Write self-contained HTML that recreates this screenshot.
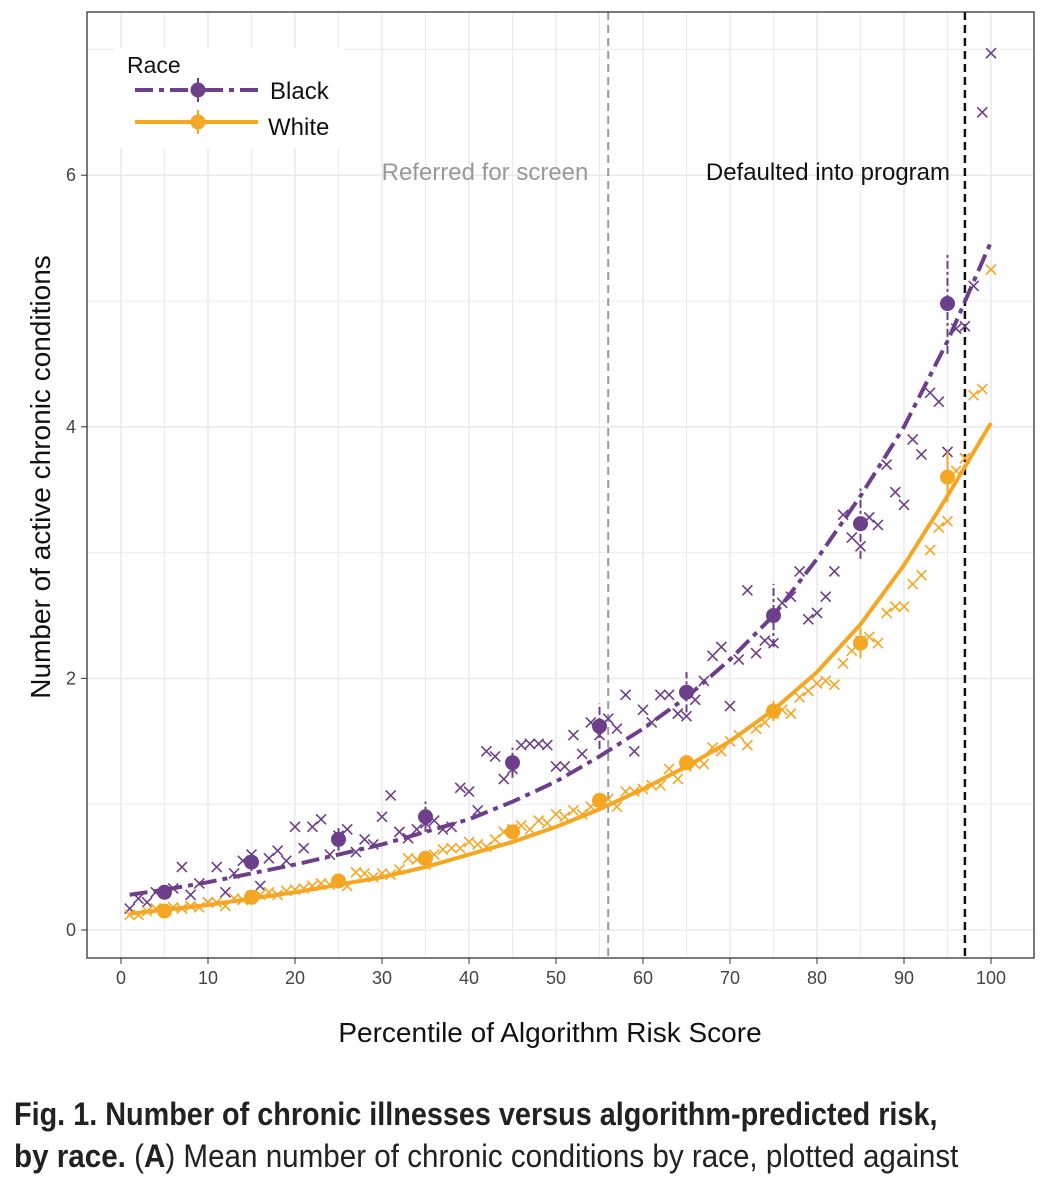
<!DOCTYPE html>
<html><head><meta charset="utf-8"><style>
body{margin:0;background:#fff;width:1056px;height:1178px;overflow:hidden;font-family:"Liberation Sans",sans-serif}
svg{position:absolute;left:0;top:0}
.cap{position:absolute;left:14px;font-family:"Liberation Sans",sans-serif;font-size:32px;color:#222;white-space:nowrap;transform-origin:0 0}
</style></head><body>
<svg width="1056" height="1178" id="chart">
<g id="grid"></g><g id="marks"></g><g id="axes"></g>
<rect x="87" y="12" width="947" height="946" fill="none" stroke="#333" stroke-width="1.3"/>
<text x="485" y="180" font-size="24" fill="#999" text-anchor="middle">Referred for screen</text>
<text x="950" y="180" font-size="24" fill="#111" text-anchor="end">Defaulted into program</text>
<g>
<rect x="115" y="48" width="230" height="100" fill="#fff"/>
<text x="127" y="73" font-size="23" fill="#111">Race</text>
<line x1="135" y1="90" x2="258" y2="90" stroke="#6d3f8a" stroke-width="4" stroke-dasharray="18 6 5 6"/>
<line x1="198" y1="78" x2="198" y2="102" stroke="#6d3f8a" stroke-width="2"/>
<circle cx="198" cy="90" r="7.5" fill="#6d3f8a"/>
<text x="270" y="99" font-size="24" fill="#111">Black</text>
<line x1="135" y1="122" x2="258" y2="122" stroke="#f5a623" stroke-width="4"/>
<line x1="198" y1="110" x2="198" y2="134" stroke="#f5a623" stroke-width="2"/>
<circle cx="198" cy="122" r="7.5" fill="#f5a623"/>
<text x="268" y="135" font-size="24" fill="#111">White</text>
</g>
<text x="550" y="1042" font-size="28" fill="#111" text-anchor="middle">Percentile of Algorithm Risk Score</text>
<text transform="translate(50,477) rotate(-90)" font-size="28" fill="#111" text-anchor="middle">Number of active chronic conditions</text>
</svg>
<div class="cap" style="top:1096px;font-weight:bold;transform:scaleX(0.9)">Fig. 1. Number of chronic illnesses versus algorithm-predicted risk,</div>
<div class="cap" style="top:1138px;transform:scaleX(0.925)"><b>by race.</b> (<b>A</b>) Mean number of chronic conditions by race, plotted against</div>
<script>
const xTicks=[0,10,20,30,40,50,60,70,80,90,100];
const yTicks=[0,2,4,6];
const blackScatter=[0.17,0.25,0.22,0.3,0.3,0.33,0.5,0.28,0.37,0.22,0.5,0.3,0.45,0.55,0.6,0.35,0.57,0.63,0.55,0.82,0.65,0.82,0.88,0.6,0.75,0.8,0.62,0.72,0.68,0.9,1.07,0.78,0.73,0.8,0.85,0.87,0.8,0.82,1.13,1.1,0.95,1.42,1.38,1.2,1.28,1.47,1.48,1.48,1.47,1.3,1.3,1.55,1.4,1.65,1.55,1.68,1.6,1.87,1.42,1.75,1.65,1.87,1.87,1.72,1.7,1.83,1.98,2.18,2.25,1.78,2.15,2.7,2.2,2.3,2.28,2.6,2.65,2.85,2.47,2.52,2.65,2.85,3.3,3.12,3.05,3.28,3.22,3.7,3.48,3.38,3.9,3.78,4.27,4.2,3.8,4.78,4.8,5.12,6.5,6.97];
const whiteScatter=[0.12,0.12,0.15,0.17,0.15,0.18,0.17,0.19,0.18,0.22,0.22,0.19,0.25,0.24,0.27,0.28,0.3,0.28,0.31,0.32,0.33,0.35,0.37,0.36,0.39,0.35,0.46,0.45,0.42,0.45,0.44,0.48,0.57,0.56,0.52,0.6,0.64,0.65,0.65,0.7,0.68,0.66,0.72,0.78,0.8,0.83,0.8,0.87,0.85,0.92,0.9,0.95,0.92,0.98,1.02,1.04,0.98,1.1,1.1,1.12,1.15,1.15,1.28,1.2,1.3,1.32,1.32,1.45,1.42,1.5,1.55,1.47,1.6,1.65,1.72,1.75,1.72,1.85,1.9,1.96,1.98,1.95,2.12,2.22,2.3,2.33,2.28,2.52,2.57,2.57,2.75,2.82,3.02,3.2,3.25,3.65,3.75,4.25,4.3,5.25];
const decileX=[5,15,25,35,45,55,65,75,85,95];
const blackMeans=[0.3,0.54,0.72,0.9,1.33,1.62,1.89,2.5,3.23,4.98];
const blackErr=[0.05,0.07,0.09,0.12,0.12,0.18,0.16,0.25,0.28,0.4];
const whiteMeans=[0.15,0.26,0.39,0.57,0.78,1.03,1.33,1.74,2.28,3.6];
const whiteErr=[0.03,0.03,0.04,0.05,0.05,0.06,0.06,0.08,0.12,0.2];
const fitX=[1,5,10,15,20,25,30,35,40,45,50,55,60,65,70,75,80,85,90,95,100];
const blackFit=[0.28,0.32,0.38,0.45,0.52,0.6,0.68,0.78,0.88,1.02,1.18,1.38,1.6,1.85,2.15,2.5,2.95,3.45,4.0,4.68,5.47];
const whiteFit=[0.13,0.16,0.2,0.25,0.3,0.36,0.42,0.5,0.6,0.7,0.82,0.96,1.12,1.3,1.5,1.75,2.05,2.43,2.9,3.45,4.03];
const referredAt=56, defaultedAt=97;

const NS='http://www.w3.org/2000/svg';
const xs=v=>121+v*8.7, ys=v=>930-v*125.8;
function mk(p,tag,a){const e=document.createElementNS(NS,tag);for(const k in a)e.setAttribute(k,a[k]);p.appendChild(e);return e;}
const grid=document.getElementById('grid'),marks=document.getElementById('marks'),axes=document.getElementById('axes');
for(let v=0;v<=100;v+=5){const l=mk(grid,'line',{x1:xs(v),x2:xs(v),y1:12,y2:958,stroke:'#ebebeb','stroke-width':v%10?1:1.6});

}
for(let v=0;v<=7;v++){const l=mk(grid,'line',{x1:87,x2:1034,y1:ys(v),y2:ys(v),stroke:'#ebebeb','stroke-width':v%2?1:1.6});

}
xTicks.forEach(v=>{mk(axes,'line',{x1:xs(v),x2:xs(v),y1:958,y2:964,stroke:'#333'});
const t=mk(axes,'text',{x:xs(v),y:984,'font-size':18,fill:'#444','text-anchor':'middle'});t.textContent=v;

});
yTicks.forEach(v=>{mk(axes,'line',{x1:81,x2:87,y1:ys(v),y2:ys(v),stroke:'#333'});
const t=mk(axes,'text',{x:76,y:ys(v)+6,'font-size':18,fill:'#444','text-anchor':'end'});t.textContent=v;

});
let l1=mk(marks,'line',{x1:xs(referredAt),x2:xs(referredAt),y1:12,y2:958,stroke:'#999','stroke-width':2,'stroke-dasharray':'8 5'});


let l2=mk(marks,'line',{x1:xs(defaultedAt),x2:xs(defaultedAt),y1:12,y2:958,stroke:'#111','stroke-width':2.5,'stroke-dasharray':'8 5'});


function scatter(arr,col,name){arr.forEach((v,i)=>{const x=xs(i+1),y=ys(v);
const p=mk(marks,'path',{d:`M${x-5},${y-5}L${x+5},${y+5}M${x-5},${y+5}L${x+5},${y-5}`,stroke:col,'stroke-width':1.6,fill:'none'});

});}
scatter(blackScatter,'#6d3f8a','black-scatter-point');
scatter(whiteScatter,'#f5a623','white-scatter-point');
function fit(arr,col,dash,name){const d=arr.map((v,i)=>(i?'L':'M')+xs(fitX[i])+','+ys(v)).join('');
const p=mk(marks,'path',{d:d,stroke:col,'stroke-width':4,fill:'none','stroke-dasharray':dash});

}
fit(whiteFit,'#f5a623','none','white-fit-line');
fit(blackFit,'#6d3f8a','18 6 5 6','black-fit-line');
function means(arr,err,col,name,dash){arr.forEach((v,i)=>{const x=xs(decileX[i]);
mk(marks,'line',{x1:x,x2:x,y1:ys(v-err[i]),y2:ys(v+err[i]),stroke:col,'stroke-width':2,'stroke-dasharray':dash});
const c=mk(marks,'circle',{cx:x,cy:ys(v),r:7.5,fill:col});

});}
means(whiteMeans,whiteErr,'#f5a623','white-decile-mean','none');
means(blackMeans,blackErr,'#6d3f8a','black-decile-mean','8 3 3 3');
</script>
</body></html>
